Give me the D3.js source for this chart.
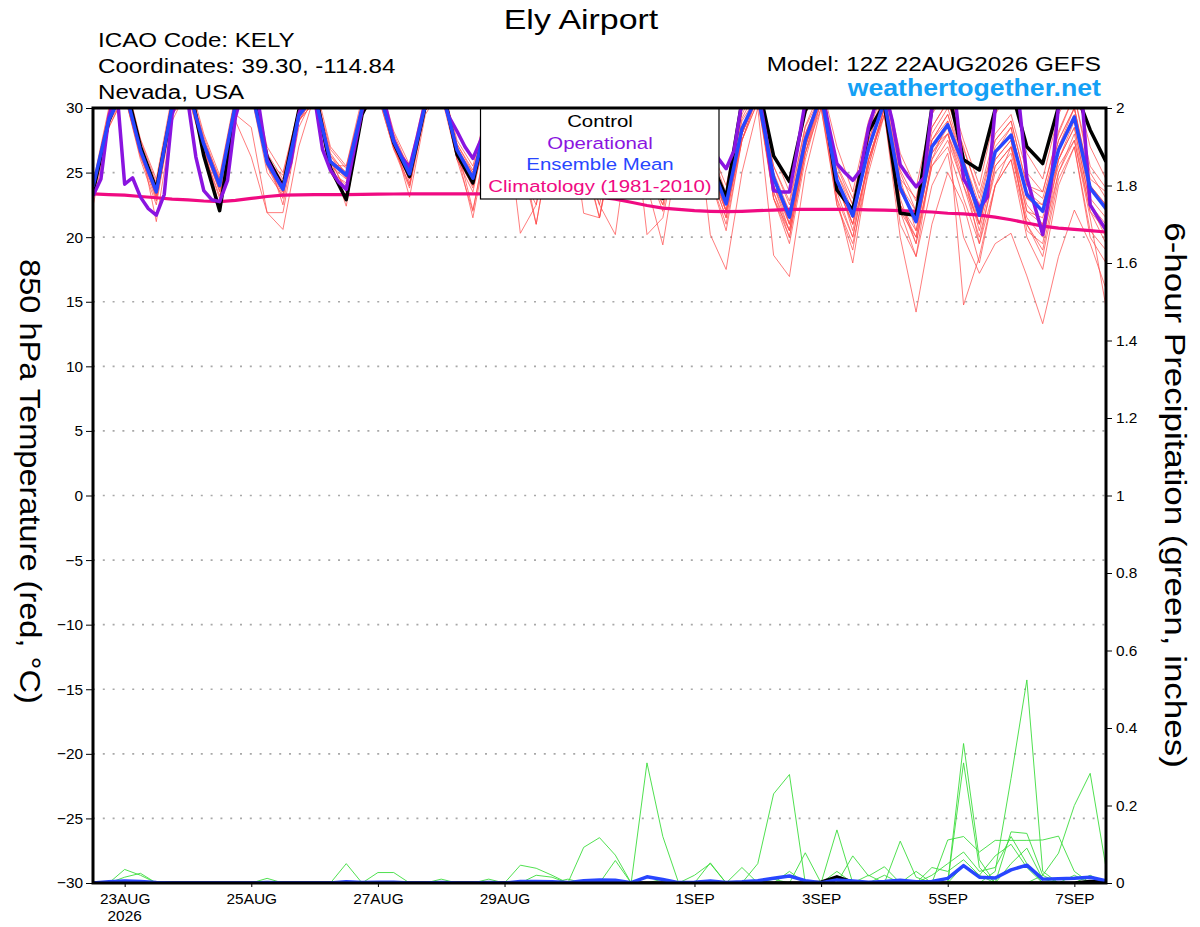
<!DOCTYPE html>
<html><head><meta charset="utf-8">
<script src="https://cdn.jsdelivr.net/npm/d3@7"></script>
<style>body{margin:0;background:#fff}svg{display:block}</style>
</head><body>
<svg id="c" width="1200" height="927"></svg>
<script>
// ---------- data ----------
const startTime = "2026-08-22T12:00:00Z";
const endTime = "2026-09-07T12:00:00Z";
const stepHours = 6;      // ensemble, control, mean, climatology, precip
const opStepHours = 3;    // operational run
const tickDates = ["2026-08-23T00:00:00Z","2026-08-25T00:00:00Z","2026-08-27T00:00:00Z","2026-08-29T00:00:00Z","2026-09-01T00:00:00Z","2026-09-03T00:00:00Z","2026-09-05T00:00:00Z","2026-09-07T00:00:00Z"];
const tickLabels = ["23AUG","25AUG","27AUG","29AUG","1SEP","3SEP","5SEP","7SEP"];
const yearLabel = "2026";
const tempTicks = [-30,-25,-20,-15,-10,-5,0,5,10,15,20,25,30];
const precipTicks = [0,0.2,0.4,0.6,0.8,1,1.2,1.4,1.6,1.8,2];
const precipTickLabels = ["0","0.2","0.4","0.6","0.8","1","1.2","1.4","1.6","1.8","2"];

const control = [23.5,29.0,32,27.0, 23.7,30.0,32.5,26.3, 22.05,29.8,32,26.2, 23.9,29.8,31.5,25.35, 22.9,29.5,32,27.3, 24.7,30.2,32,26.4, 24.2,29.8,31.5,27.0, 24.5,29.5,31.5,27.0, 24.3,29.5,31.5,26.5, 23.0,29.0,31.5,26.0, 23.1,30.5,32,26.3, 24.3,29.8,32,23.65, 22.1,28.2,30.3,21.85, 21.7,30.0,31.5,26.0, 25.2,29.9,31.5,27.0, 25.7,30.1,31.5,28.3, 25.85];
const ensMean = [23.9,29.1,31.5,26.7, 23.5,30.2,31.5,27.2, 24.0,30.3,31.5,25.8, 23.7,29.4,31.0,25.85, 24.8,30.0,31.5,27.4, 24.9,30.3,31.5,26.75, 24.56,29.5,31,27.0, 24.5,29.5,31,26.8, 24.2,29.3,31,26.5, 23.6,29.0,31,25.8, 22.57,28.4,31,24.6, 21.55,27.5,31,24.4, 21.65,26.9,30.5,23.8, 21.2,27.0,28.7,25.6, 21.7,26.6,27.9,23.3, 22.0,26.75,29.3,23.8, 22.2];
const operational = [23.2,24.5,29.3,31.5,24.1,24.6,23.1,22.2, 21.7,23.3,29.5,31.5,30.5,26.2,23.6,22.9, 22.75,24.4,29.3,31.5,31.5,30.0,26.0,24.8, 23.8,25.8,29.5,31.5,30.8,26.8,25.2,24.3, 23.7,26.8,29.8,31.5,32,30.0,27.5,26.2, 25.4,27.8,30.5,31.5,31.0,29.3,28.2,27.0, 26.1,27.5,30.0,31.5,31.5,29.0,27.0,25.5, 24.5,27.0,30.0,31.5,31.5,29.0,27.0,25.5, 24.5,27.0,30.0,31.5,31.5,29.0,27.0,25.5, 24.5,27.0,30.0,31.5,31.5,29.5,27.5,26.1, 25.3,26.7,30.5,31.5,31.5,28.0,23.6,23.5, 23.5,26.8,30.5,31.5,31.5,28.5,25.7,25.0, 24.4,25.2,28.5,30.5,31.5,29.0,25.6,24.7, 23.9,24.6,30.0,31.5,31.5,30.5,24.5,23.5, 22.2,23.1,30.0,31.5,31.5,30.5,24.6,22.4, 20.2,23.8,30.2,31.5,31.5,30.5,22.5,21.5, 20.55];
const climatology = [23.35,23.3,23.25,23.15, 23.05,22.95,22.88,22.8, 22.75,22.85,23.0,23.15, 23.25,23.28,23.3,23.3, 23.3,23.32,23.33,23.34, 23.35,23.35,23.35,23.35, 23.35,23.35,23.35,23.35, 23.35,23.3,23.25,23.2, 23.1,22.95,22.7,22.45, 22.25,22.15,22.05,22.0, 21.97,22.0,22.05,22.1, 22.15,22.15,22.15,22.15, 22.15,22.12,22.1,22.05, 22.0,21.95,21.85,21.8, 21.7,21.55,21.35,21.1, 20.85,20.7,20.6,20.5, 20.4];

const member01 = [23.5,29.5,32,27.5, 24.2,30.5,32,27.8, 24.4,30.8,32,26.5, 24.5,29.8,31.5,26.8, 25.3,30.4,32,28.0, 25.2,30.8,32,27.2, 25.0,30,31.5,27.8, 25.2,30,31.5,27.5, 25.0,29.8,31.5,27.2, 24.5,29.6,31.5,26.8, 23.4,29.2,31.5,25.5, 22.8,28.6,31.5,25.6, 23.0,28.2,31.5,25.2, 22.8,28.5,30.5,26.8, 23.4,28.0,29.5,25.0, 23.5,28.2,31,25.5, 23.8];
const member02 = [23.8,29.0,31.5,26.5, 23.2,30.0,31.5,26.8, 23.6,29.0,26.2,21.9, 20.6,27.0,31,26.0, 23.5,29.5,31.5,27.0, 24.0,30.0,31.5,26.0, 23.5,29.0,31,26.5, 23.5,29.0,31,26.0, 22.5,28.5,31,25.5, 22.0,28.0,31,24.5, 20.5,27.5,31,23.5, 20.0,26.5,31,23.0, 20.0,26.0,30.0,22.5, 19.5,25.5,27.5,24.0, 20.0,25.0,26.5,21.5, 20.0,25.0,28.0,22.0, 20.5];
const member03 = [23.2,28.5,31,26.0, 22.5,29.5,31.5,26.5, 23.2,29.5,28.5,21.9, 21.9,28.5,31,25.0, 23.0,29.5,31.5,27.0, 24.5,30.5,31.5,26.0, 22.0,28.5,31,26.0, 21.0,28.0,31,26.0, 23.5,29.0,31,25.0, 23.0,28.5,31,25.0, 21.5,28.0,31,23.0, 19.5,26.0,30.5,24.0, 21.0,25.5,30.0,22.0, 18.5,26.0,28.0,25.0, 19.5,25.5,27.0,22.5, 21.0,25.5,27.5,22.0, 19.5];
const member04 = [24.0,29.8,32,27.0, 23.8,30.5,32,27.5, 24.2,30.5,32,26.0, 24.0,29.5,31,26.3, 25.0,30.2,32,27.6, 25.3,30.5,32,27.0, 24.5,29.5,31.5,25.0, 22.5,29.0,31,26.0, 24.0,29.5,31,24.0, 19.4,27.0,31,24.5, 21.0,27.5,31,23.0, 20.0,26.5,30.5,22.5, 19.5,25.0,29.5,21.0, 18.5,24.0,26.5,20.0, 17.2,19.5,20.3,17.0, 13.3,18.5,22.1,19.5, 16.0];
const member05 = [23.6,29.2,31.5,27.2, 21.2,29.0,31.5,27.0, 23.8,30.0,31.5,25.5, 23.0,29.0,31,25.5, 24.5,29.8,31.5,27.0, 24.0,30.0,31.5,26.5, 23.8,28.5,30.5,20.3, 22.5,28.5,31,26.5, 23.0,28.0,31,20.2, 21.5,27.5,31,25.0, 22.0,28.0,31,24.0, 21.0,27.0,31,24.5, 20.5,26.0,29.5,20.0, 14.2,21.0,25.0,22.5, 18.0,24.0,26.0,21.0, 18.5,24.5,27.0,20.0, 18.0];
const member06 = [23.0,28.8,31.5,26.8, 23.0,29.8,31.5,27.0, 24.5,30.5,32,26.0, 24.2,29.8,31.5,26.5, 24.8,30.0,31.5,27.5, 23.1,29.5,31.5,27.0, 22.1,28.0,31,27.0, 21.0,28.0,31,26.0, 21.5,28.0,31,25.0, 22.5,28.0,31,20.2, 17.5,25.0,30.0,18.6, 16.95,25.0,30.0,23.0, 18.0,25.5,30.0,23.0, 19.5,26.0,29.0,14.75, 18.5,24.0,27.0,21.0, 19.0,25.0,27.5,21.5, 14.6];
const member07 = [24.2,30.0,32.5,27.6, 24.5,31.0,32.5,28.0, 24.8,31.0,32.5,27.0, 25.0,30.0,32,27.0, 25.5,30.8,32.5,28.2, 25.6,31.0,32,27.5, 25.5,30.5,32,28.0, 25.5,30.5,32,28.0, 25.5,30.5,32,27.5, 25.0,30.0,32,27.0, 24.0,29.5,32,26.5, 23.5,29.5,32,27.0, 23.5,29.0,32,26.5, 23.8,29.5,31.5,27.5, 24.0,29.5,31.5,26.5, 24.5,29.5,32,27.0, 24.5];
const member08 = [22.4,28.5,31,26.3, 22.8,29.5,31,26.5, 23.0,29.8,31,25.0, 23.2,29.0,30.5,25.2, 24.0,29.5,31,26.8, 24.5,29.8,31,26.0, 24.0,29.0,30.5,26.5, 24.0,29.0,30.5,21.85, 21.5,28.5,30.5,26.0, 23.0,28.5,30.5,25.5, 22.0,27.5,30.5,23.0, 20.5,26.5,30.0,22.5, 19.0,26.0,29.5,22.0, 20.0,25.5,27.0,23.0, 19.5,24.0,26.0,20.0, 17.5,24.0,27.0,20.5, 19.0];
const member09 = [23.9,29.3,31.5,26.9, 23.0,30.0,31.5,27.0, 23.5,30.0,31.5,25.5, 23.3,29.2,31,25.0, 24.2,29.8,31.5,27.2, 24.8,30.2,31.5,26.5, 24.8,29.5,31,27.0, 25.0,29.5,31,27.0, 24.5,29.5,31,26.5, 24.0,29.0,31,26.0, 22.5,28.0,31,25.0, 22.0,28.0,31,25.0, 22.5,27.5,31,25.0, 22.0,28.0,30.0,26.0, 22.5,27.5,29.0,24.0, 23.0,27.5,30.0,24.5, 23.5];
const member10 = [24.1,29.6,32,27.3, 23.8,30.5,32,27.5, 24.6,30.8,32,26.2, 24.3,30.0,31.5,26.0, 23.5,29.8,32,27.8, 25.0,30.5,32,27.2, 25.2,30.0,31.5,27.5, 24.8,29.8,31.5,26.5, 21.5,27.5,31,26.5, 23.5,29.0,31,26.0, 23.0,28.5,31,24.5, 22.0,28.0,31,24.5, 21.5,27.0,31,23.5, 21.5,27.5,29.5,25.5, 21.0,26.5,28.5,23.0, 22.0,27.0,30.0,24.0, 22.5];
const member11 = [23.7,29.0,31.5,26.6, 23.6,30.2,31.5,27.3, 23.9,30.2,31.5,25.9, 23.8,29.5,31,26.0, 22.4,29.5,31.5,27.3, 25.2,30.5,31.5,26.8, 24.0,29.0,31,27.5, 25.0,29.5,31,26.5, 22.5,20.2,29.0,26.0, 24.0,29.5,31,26.5, 22.0,28.5,31,25.0, 21.0,27.5,31,25.0, 22.0,27.0,30.5,24.5, 20.5,26.5,28.5,25.0, 20.5,25.5,27.0,22.0, 21.0,26.0,29.0,23.0, 21.5];
const member12 = [23.4,29.0,31.5,27.0, 24.0,30.5,31.5,27.5, 24.2,30.5,31.5,26.3, 22.5,29.0,31,26.0, 25.0,30.2,31.5,27.8, 24.2,30.0,31.5,26.6, 21.5,28.0,31,27.0, 24.0,29.5,31,27.0, 24.5,29.5,31,26.0, 23.0,29.0,31,25.0, 21.5,28.0,31,24.0, 20.5,27.0,31,24.0, 21.0,27.0,30.5,22.5, 20.0,27.0,28.0,24.5, 21.0,26.0,27.5,20.5, 19.5,26.0,28.5,22.5, 20.0];
const member13 = [23.6,29.4,31.5,26.4, 23.4,30.0,31.5,26.9, 24.3,30.3,31.5,25.6, 23.5,29.3,31,25.6, 25.5,30.3,31.5,27.5, 25.5,30.5,31.5,26.8, 25.0,30.0,31,26.5, 24.5,29.5,31,26.5, 24.5,29.5,31,26.8, 24.0,29.5,31,26.5, 23.0,29.0,31,24.0, 21.5,27.5,31,24.5, 21.0,27.5,31,24.0, 22.0,27.5,29.5,26.0, 22.0,26.5,28.0,23.5, 22.5,27.0,29.5,24.0, 22.0];
const member14 = [23.9,29.5,32,27.0, 24.0,30.8,32,27.5, 24.2,30.2,31.5,25.8, 23.8,29.5,31,26.0, 24.8,30.0,31.5,27.5, 25.0,30.3,31.5,27.0, 24.8,29.8,31,27.2, 25.5,30.0,31,27.0, 24.8,29.5,31,26.0, 23.5,29.0,31,26.0, 22.0,28.5,31,25.5, 22.5,28.5,31,25.5, 22.5,28.0,31,24.5, 23.0,28.5,30.5,27.0, 23.0,27.5,29.0,24.0, 23.5,28.0,31,25.0, 23.0];
const member15 = [23.8,29.2,31.5,26.8, 23.6,30.0,31.5,27.0, 22.3,29.5,31.5,25.8, 24.8,30.0,31.5,26.3, 24.6,30.0,31.5,27.0, 25.0,30.5,31.5,26.8, 24.4,29.5,31,26.8, 24.5,29.5,31,26.8, 24.0,29.0,31,26.0, 24.0,29.0,31,26.0, 22.5,28.0,31,24.5, 21.0,27.0,31,24.0, 21.5,26.5,30.5,23.5, 21.5,27.5,29.0,25.5, 22.0,27.0,28.5,23.0, 22.5,27.5,30.0,24.0, 22.5];
const member16 = [23.5,28.8,31,26.2, 23.3,29.8,31,26.7, 24.0,30.0,31,25.6, 23.5,29.0,30.5,25.7, 24.6,29.8,31,26.8, 23.8,29.8,31,26.5, 24.5,29.0,30.5,26.5, 24.0,29.0,30.5,26.5, 23.5,28.5,30.5,25.5, 22.5,28.0,30.5,25.5, 22.0,27.5,30.5,23.5, 20.5,27.0,30.5,23.5, 20.0,26.0,30.0,22.5, 20.5,26.5,28.0,24.0, 21.0,26.0,27.5,22.0, 21.5,26.0,28.5,22.5, 21.0];
const tempMembers = [member01,member02,member03,member04,member05,member06,member07,member08,member09,member10,member11,member12,member13,member14,member15,member16];

// 6-hour precipitation (inches)
const precipMean = [0,0.003,0.005,0.004,0.001,0,0,0,0,0, 0,0.001,0,0,0,0,0.003,0.001,0.002,0.002, 0,0,0.001,0,0,0.001,0,0.004,0.004,0.003, 0.001,0.006,0.008,0.007,0.001,0.016,0.009,0.001,0.002,0.005, 0.001,0.003,0.006,0.012,0.018,0.006,0.001,0.008,0.005,0.002, 0.004,0.007,0.003,0.004,0.012,0.045,0.015,0.013,0.034,0.046, 0.01,0.011,0.012,0.015,0.006];
const precipControl = [0,0,0,0,0,0,0,0,0,0, 0,0,0,0,0,0,0,0,0,0, 0,0,0,0,0,0,0,0,0,0, 0,0,0,0,0,0,0,0,0,0, 0,0,0,0,0,0,0.002,0.016,0.002,0, 0,0,0,0,0,0,0,0,0,0, 0,0,0,0.004,0.003];
const precipM1 = [0,0,0.035,0.02,0,0,0,0,0,0, 0,0,0,0,0,0,0.05,0,0,0, 0,0,0,0,0,0,0,0,0,0, 0,0,0,0,0,0.31,0.12,0,0,0, 0,0,0,0,0,0,0,0,0,0, 0,0,0,0,0,0.36,0.06,0,0,0, 0,0,0,0,0];
const precipM2 = [0,0,0.015,0.025,0,0,0,0,0,0, 0,0,0,0,0,0,0,0,0.027,0.027, 0,0,0,0,0,0,0,0,0,0, 0,0.092,0.117,0.072,0,0,0,0,0,0, 0,0,0.05,0.23,0.28,0,0,0,0,0, 0,0,0,0,0,0,0,0.03,0.27,0.524, 0.03,0,0,0,0];
const precipM3 = [0,0,0,0,0,0,0,0,0,0, 0,0.012,0,0,0,0,0,0,0,0, 0,0,0,0,0,0,0,0.046,0.038,0.02, 0,0,0,0,0,0,0,0,0,0.052, 0,0,0,0,0,0,0,0.137,0,0, 0,0,0,0,0,0.31,0.04,0,0.132,0.128, 0.02,0,0,0,0];
const precipM4 = [0,0,0,0,0,0,0,0,0,0, 0,0,0,0,0,0,0,0,0,0, 0,0,0.01,0,0,0.01,0,0,0,0, 0,0,0,0.058,0,0,0,0,0,0, 0,0,0,0,0,0.078,0,0,0,0, 0,0.108,0.015,0,0,0,0,0,0,0, 0.02,0.077,0.2,0.283,0.04];
const precipM5 = [0,0,0,0,0,0,0,0,0,0, 0,0,0,0,0,0,0,0,0,0, 0,0,0,0,0,0,0,0,0.02,0.015, 0,0,0,0,0,0,0,0,0.02,0.05, 0,0,0,0,0,0,0,0,0.07,0.018, 0.042,0,0,0,0.111,0.12,0.08,0.11,0.11,0.11, 0.111,0.121,0.03,0,0];
const precipM6 = [0,0,0,0,0,0,0,0,0,0, 0,0,0,0,0,0,0,0,0,0, 0,0,0,0,0,0,0,0,0,0, 0.01,0,0,0,0,0,0,0,0,0, 0,0.04,0,0,0,0,0,0.03,0,0, 0,0,0,0.02,0.05,0.08,0.03,0.04,0.12,0.05, 0,0,0.02,0,0];
const precipM7 = [0,0,0,0,0,0,0,0,0,0, 0,0,0,0,0,0,0,0,0,0, 0,0,0,0,0,0,0,0,0,0, 0,0,0,0,0,0,0.01,0,0,0, 0,0,0,0,0.03,0,0,0,0,0.02, 0,0,0.03,0,0,0.045,0.02,0.07,0.1,0.04, 0,0,0,0.02,0];
const precipM8 = [0,0,0,0,0,0,0,0,0,0, 0,0,0,0,0,0,0,0,0,0, 0,0,0,0,0,0,0,0,0,0, 0,0,0,0,0,0,0,0,0,0, 0,0,0,0.01,0,0,0,0,0,0, 0.02,0,0,0.04,0.03,0.06,0.02,0,0.05,0.09, 0.01,0,0,0,0];
const precipMembers = [precipM1,precipM2,precipM3,precipM4,precipM5,precipM6,precipM7,precipM8];

// ---------- drawing ----------
const FONT = "'Liberation Sans', Arial, Helvetica, sans-serif";
const C = {control:"#000000", op:"#8a14e0", mean:"#2846ff", clim:"#f00a82", member:"#ff4a4a", precip:"#3cdc3c", web:"#14a0f5"};
const plot = {l:93, r:1106, t:108, b:883};

const svg = d3.select("#c").attr("font-family", FONT);
const t0 = new Date(startTime), t1 = new Date(endTime);
const x = d3.scaleUtc().domain([t0, t1]).range([plot.l, plot.r]);
const yT = d3.scaleLinear().domain([-30, 30]).range([plot.b, plot.t]);
const yP = d3.scaleLinear().domain([0, 2]).range([plot.b, plot.t]);
const timeAt = (i, step) => new Date(t0.getTime() + i * step * 3600e3);

svg.append("defs").append("clipPath").attr("id","pc")
  .append("rect").attr("x",plot.l).attr("y",plot.t).attr("width",plot.r-plot.l).attr("height",plot.b-plot.t);

// grid
const grid = svg.append("g");
grid.selectAll("line").data(tempTicks.filter(v => v > -30 && v < 30)).join("line")
  .attr("x1", plot.l).attr("x2", plot.r).attr("y1", d => yT(d)).attr("y2", d => yT(d))
  .attr("stroke", "#a8a8a8").attr("stroke-width", 1.6).attr("stroke-dasharray", "2,7.8");

const g = svg.append("g").attr("clip-path","url(#pc)");
const lineT = (step) => d3.line().x((d,i) => x(timeAt(i, step))).y(d => yT(d));
const lineP = d3.line().x((d,i) => x(timeAt(i, stepHours))).y(d => yP(d));

g.selectAll("path.mem").data(tempMembers).join("path").attr("class","mem")
  .attr("d", lineT(stepHours)).attr("fill","none").attr("stroke", C.member)
  .attr("stroke-width", 0.85).attr("stroke-opacity", 0.85).attr("stroke-linejoin","round");
g.selectAll("path.pm").data(precipMembers).join("path").attr("class","pm")
  .attr("d", lineP).attr("fill","none").attr("stroke", C.precip)
  .attr("stroke-width", 0.9).attr("stroke-linejoin","round");

g.append("path").attr("d", lineT(stepHours)(climatology)).attr("fill","none").attr("stroke",C.clim).attr("stroke-width",3.2);
g.append("path").attr("d", lineT(stepHours)(control)).attr("fill","none").attr("stroke",C.control).attr("stroke-width",3.5).attr("stroke-linejoin","round");
g.append("path").attr("d", lineT(opStepHours)(operational)).attr("fill","none").attr("stroke",C.op).attr("stroke-width",3.5).attr("stroke-linejoin","round");
g.append("path").attr("d", lineT(stepHours)(ensMean)).attr("fill","none").attr("stroke",C.mean).attr("stroke-width",3.5).attr("stroke-linejoin","round");
g.append("path").attr("d", lineP(precipControl)).attr("fill","none").attr("stroke",C.control).attr("stroke-width",3.5).attr("stroke-linejoin","round");
g.append("path").attr("d", lineP(precipMean)).attr("fill","none").attr("stroke",C.mean).attr("stroke-width",3.5).attr("stroke-linejoin","round");

// legend box
const lg = svg.append("g");
lg.append("rect").attr("x",480.5).attr("y",108).attr("width",238.5).attr("height",91).attr("fill","#fff").attr("stroke","#000").attr("stroke-width",1.2);

function txt(parent, o) {
  const tr = `translate(${o.x},${o.y})` + (o.rotate ? ` rotate(${o.rotate})` : "") + ` scale(${o.sx||1},1)`;
  return parent.append("text").attr("transform", tr).attr("text-anchor", o.anchor || "start")
    .attr("font-size", o.size).attr("font-weight", o.weight || "normal").attr("fill", o.fill || "#000").text(o.text);
}
const legendItems = [["Control",C.control],["Operational",C.op],["Ensemble Mean",C.mean],["Climatology (1981-2010)",C.clim]];
legendItems.forEach((d,i) => txt(lg, {x:600, y:127 + i*21.5, text:d[0], size:17, sx:1.2, anchor:"middle", fill:d[1]}));

// frame
svg.append("rect").attr("x",plot.l).attr("y",plot.t).attr("width",plot.r-plot.l).attr("height",plot.b-plot.t)
  .attr("fill","none").attr("stroke","#000").attr("stroke-width",3);

// axes
const axL = svg.append("g").attr("transform",`translate(${plot.l},0)`)
  .call(d3.axisLeft(yT).tickValues(tempTicks).tickFormat(d3.format("d")).tickSize(7).tickPadding(3));
const axR = svg.append("g").attr("transform",`translate(${plot.r},0)`)
  .call(d3.axisRight(yP).tickValues(precipTicks).tickFormat((d,i) => precipTickLabels[i]).tickSize(6).tickPadding(4));
const axB = svg.append("g").attr("transform",`translate(0,${plot.b})`)
  .call(d3.axisBottom(x).tickValues(tickDates.map(d => new Date(d))).tickFormat((d,i) => tickLabels[i]).tickSize(4).tickPadding(6));
[axL, axR, axB].forEach(a => {
  a.select(".domain").remove();
  a.selectAll("text").attr("font-family", FONT).attr("font-size", 15.4).attr("fill","#000");
  a.selectAll("line").attr("stroke","#000").attr("stroke-width",1);
});
txt(svg, {x:x(new Date(tickDates[0])), y:921, text:yearLabel, size:15.4, anchor:"middle"});

// titles
txt(svg, {x:581, y:29, text:"Ely Airport", size:28.5, sx:1.19, anchor:"middle"});
txt(svg, {x:98, y:47, text:"ICAO Code: KELY", size:21, sx:1.15});
txt(svg, {x:98, y:73, text:"Coordinates: 39.30, -114.84", size:21, sx:1.15});
txt(svg, {x:98, y:99, text:"Nevada, USA", size:21, sx:1.15});
txt(svg, {x:1101, y:71, text:"Model: 12Z 22AUG2026 GEFS", size:21, sx:1.155, anchor:"end"});
txt(svg, {x:1101, y:96, text:"weathertogether.net", size:23, sx:1.16, anchor:"end", weight:"bold", fill:C.web});
txt(svg, {x:20, y:481.5, rotate:90, text:"850 hPa Temperature (red, °C)", size:30, sx:1.085, anchor:"middle"});
txt(svg, {x:1165, y:495, rotate:90, text:"6-hour Precipitation (green, inches)", size:30, sx:1.165, anchor:"middle"});
</script>
</body></html>
